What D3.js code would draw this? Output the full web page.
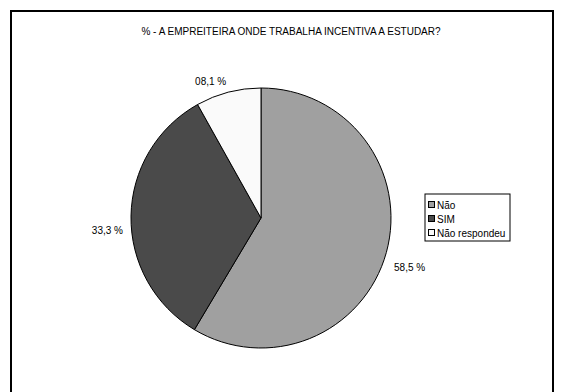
<!DOCTYPE html>
<html>
<head>
<meta charset="utf-8">
<script src="https://cdn.jsdelivr.net/npm/d3@7"></script>
<style>
  body { margin: 0; background: #fff; }
  text { font-family: "Liberation Sans", Arial, sans-serif; fill: #000; }
</style>
</head>
<body>
<svg width="561" height="392"></svg>
<script>
// data
var categories = ["Não", "SIM", "Não respondeu"],
    values = [58.5, 33.3, 8.1],
    labels = ["58,5 %", "33,3 %", "08,1 %"],
    colors = ["#a0a0a0", "#4a4a4a", "#fafafa"];

var title = "% - A EMPREITEIRA ONDE TRABALHA INCENTIVA A ESTUDAR?";

var svg = d3.select("svg"),
    width = +svg.attr("width"),
    height = +svg.attr("height");

// outer frame
svg.append("rect")
    .attr("x", 11)
    .attr("y", 11)
    .attr("width", 542)
    .attr("height", 400)
    .attr("fill", "none")
    .attr("stroke", "#000")
    .attr("stroke-width", 2);

svg.append("text")
    .attr("x", 291)
    .attr("y", 35)
    .attr("text-anchor", "middle")
    .style("font-size", "10px")
    .text(title);

// pie
var cx = 261, cy = 218, radius = 130;

var pie = d3.pie().sort(null).value(function(d) { return d; });
var arcs = pie(values);

var arc = d3.arc().innerRadius(0).outerRadius(radius);
var labelArc = d3.arc().innerRadius(radius + 8).outerRadius(radius + 8);

var g = svg.append("g")
    .attr("transform", "translate(" + cx + "," + cy + ")");

g.selectAll("path")
    .data(arcs)
  .enter().append("path")
    .attr("d", arc)
    .attr("fill", function(d, i) { return colors[i]; })
    .attr("stroke", "#000")
    .attr("stroke-width", 1);

g.selectAll("text.lbl")
    .data(arcs)
  .enter().append("text")
    .attr("class", "lbl")
    .attr("transform", function(d) {
        var c = labelArc.centroid(d);
        var mid = (d.startAngle + d.endAngle) / 2;
        // side labels sit a bit lower, top ones a bit higher
        var dy = Math.abs(Math.sin(mid)) * 22 - 8;
        return "translate(" + c[0] + "," + (c[1] + dy) + ")";
    })
    .attr("dy", "0.35em")
    .attr("text-anchor", function(d) {
        var mid = (d.startAngle + d.endAngle) / 2;
        var s = Math.sin(mid);
        if (Math.abs(s) < 0.15) return "middle";
        return s > 0 ? "start" : "end";
    })
    .style("font-size", "10px")
    .text(function(d, i) { return labels[i]; });

// legend
var legend = svg.append("g").attr("transform", "translate(425,194)");

legend.append("rect")
    .attr("width", 85)
    .attr("height", 47)
    .attr("fill", "#fff")
    .attr("stroke", "#000")
    .attr("stroke-width", 1);

var item = legend.selectAll("g.item")
    .data(categories)
  .enter().append("g")
    .attr("class", "item")
    .attr("transform", function(d, i) { return "translate(3," + (11 + i * 14) + ")"; });

item.append("rect")
    .attr("x", 0.5)
    .attr("y", -3.5)
    .attr("width", 6)
    .attr("height", 6)
    .attr("fill", function(d, i) { return colors[i]; })
    .attr("stroke", "#000")
    .attr("stroke-width", 1);

item.append("text")
    .attr("x", 9)
    .attr("dy", "0.35em")
    .style("font-size", "10px")
    .text(function(d) { return d; });
</script>
</body>
</html>
